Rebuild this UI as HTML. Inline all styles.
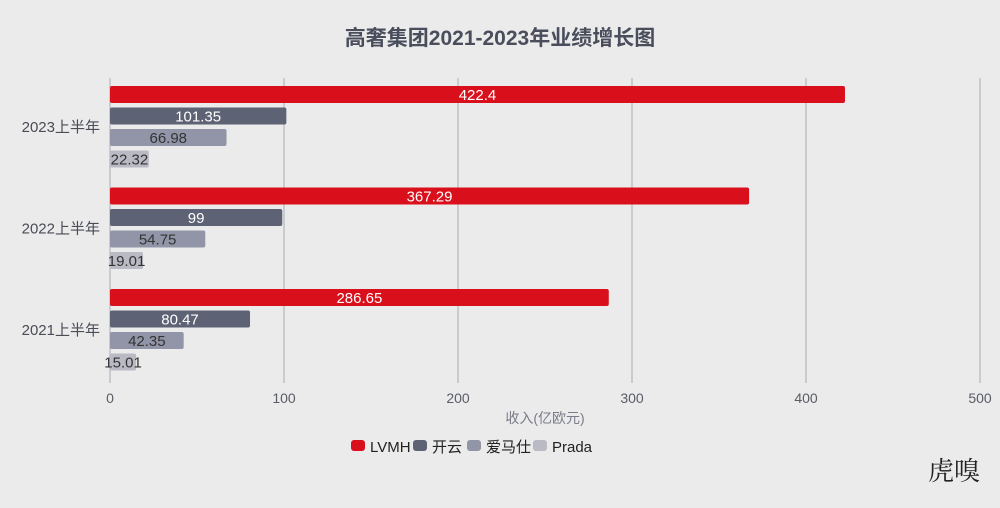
<!DOCTYPE html>
<html><head><meta charset="utf-8">
<style>
body{margin:0;background:#ebebeb;}
svg{display:block;font-family:"Liberation Sans","Noto Sans CJK SC",sans-serif;}
</style></head>
<body>
<svg id="chart" width="1000" height="508" viewBox="0 0 1000 508">
<rect width="1000" height="508" fill="#ebebeb"/>
<text x="500" y="45" text-anchor="middle" font-size="21" font-weight="bold" fill="#4a4d5c">高奢集团2021-2023年业绩增长图</text>
<g id="grid"></g>
<g id="bars"></g>
<text x="545" y="423" text-anchor="middle" font-size="14" fill="#7a7c88">收入(亿欧元)</text>
<g id="legend"></g>
<text x="980" y="480" text-anchor="end" font-size="26" fill="#222" font-family="'Noto Serif CJK SC',serif">虎嗅</text>
</svg>
<script>
const categories=["2023上半年","2022上半年","2021上半年"];
const seriesNames=["LVMH","开云","爱马仕","Prada"];
const lvmh=[422.4,367.29,286.65];
const kering=[101.35,99,80.47];
const hermes=[66.98,54.75,42.35];
const prada=[22.32,19.01,15.01];
const ticks=[0,100,200,300,400,500];
const series=[lvmh,kering,hermes,prada];
const colors=["#d9101c","#5e6275","#9295a8","#b9bac4"];
const labelColors=["#fff","#fff","#333","#333"];
const NS="http://www.w3.org/2000/svg";
const x0=110,x1=980,xmax=500;
const xs=v=>x0+v/xmax*(x1-x0);
const groupTop=86,groupStep=101.5,barStep=21.5,barH=17;
function mk(t,a,p){const e=document.createElementNS(NS,t);for(const k in a)e.setAttribute(k,a[k]);p.appendChild(e);return e;}
const grid=document.getElementById('grid');
ticks.forEach(t=>{
 const l=mk('line',{x1:xs(t),x2:xs(t),y1:78,y2:383,stroke:'#a9abb3','stroke-width':1},grid);
 
 
 const tx=mk('text',{x:xs(t),y:403,'text-anchor':'middle','font-size':14,fill:'#5a5c66'},grid);
 tx.textContent=t;
 
 
});
const bars=document.getElementById('bars');
categories.forEach((c,i)=>{
 const gy=groupTop+i*groupStep;
 const ct=mk('text',{x:100,y:gy+barStep*1.5+barH/2+5,'text-anchor':'end','font-size':15,fill:'#4a4c56'},bars);
 ct.textContent=c;
 
 
 series.forEach((s,j)=>{
  const y=gy+j*barStep;
  const r=mk('rect',{x:x0,y:y,width:xs(s[i])-x0,height:barH,rx:2,fill:colors[j]},bars);
  
  
  const t=mk('text',{x:(x0+xs(s[i]))/2,y:y+barH/2+5.5,'text-anchor':'middle','font-size':15,fill:labelColors[j]},bars);
  t.textContent=s[i];
  
  
 });
});
const legend=document.getElementById('legend');
const lx=[351,413,467,533];
seriesNames.forEach((n,j)=>{
 const r=mk('rect',{x:lx[j],y:440,width:14,height:11,rx:3,fill:colors[j]},legend);
 
 
 const t=mk('text',{x:lx[j]+19,y:452,'font-size':15,fill:'#222'},legend);
 t.textContent=n;
 
 
});
</script>
</body></html>
